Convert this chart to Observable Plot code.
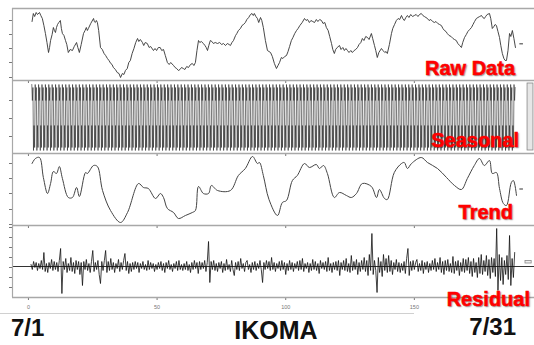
<!DOCTYPE html>
<html><head><meta charset="utf-8">
<script src="https://cdn.jsdelivr.net/npm/d3@7"></script>
<script src="https://cdn.jsdelivr.net/npm/@observablehq/plot@0.6"></script>
<style>
html,body{margin:0;padding:0;background:#fff;}
#wrap{position:relative;width:534px;height:345px;overflow:hidden;font-family:"Liberation Sans",Arial,sans-serif;background:#fff;}
.lab{position:absolute;color:#ff0000;font-weight:bold;font-size:20px;line-height:1;white-space:nowrap;-webkit-text-stroke:0.5px #f00;text-shadow:1px 1px 1.5px rgba(0,0,0,0.5);font-family:"Liberation Sans",Arial,sans-serif;}
.bt{position:absolute;color:#111;font-weight:bold;line-height:1;white-space:nowrap;font-family:"Liberation Sans",Arial,sans-serif;}
#baseline{position:absolute;left:0;top:313px;width:414px;height:0;border-top:1px solid #d0d0d0;}
</style></head><body><div id="wrap"><div id="baseline"></div></div>
<script>
// ---------- data ----------
const xDomain = [-6.2, 196.7];
const xTicks = [0, 50, 100, 150];

const rawPoints = [[1.4,59],[1.9,67],[2.4,64],[3.0,68],[3.5,66],[4.3,68],[4.8,65],[5.4,62],[6.0,55],[6.6,47],[7.2,38],[7.8,28],[8.2,33],[8.6,40],[9.2,46],[9.7,53],[10.1,50],[10.5,48],[10.9,53],[11.3,56],[11.8,58],[12.4,60],[12.8,52],[13.2,47],[13.8,45],[14.4,40],[14.9,36],[15.5,28],[16.2,31],[17.1,30],[17.8,34],[18.7,38],[19.2,33],[19.8,28],[20.5,36],[21.4,47],[22.0,50],[22.5,53],[22.9,50],[23.3,52],[24.2,57],[25.3,62],[25.6,59],[26.0,58],[26.4,60],[26.8,58],[27.3,50],[28.0,33],[28.7,31],[29.4,27],[30.0,25],[30.7,22],[31.3,20],[32.0,17],[32.5,16],[33.0,13],[33.8,11],[34.5,8],[35.2,7],[35.8,3],[36.5,7],[37.1,6],[37.7,10],[38.4,12],[39.0,18],[39.6,20],[40.3,27],[41.0,32],[41.7,38],[42.4,42],[42.9,39],[43.5,41],[44.3,38],[44.8,35],[45.4,38],[46.2,37],[46.9,33],[47.5,34],[48.6,30],[49.2,32],[49.8,30],[50.5,33],[51.2,33],[51.8,30],[52.5,31],[53.2,25],[54.0,18],[54.7,16],[55.3,18],[56.4,15],[57.0,13],[57.6,12],[58.3,10],[58.9,11],[59.5,13],[60.2,12],[60.8,11],[61.5,14],[62.2,13],[63.0,16],[63.7,17],[64.3,15],[64.9,18],[65.5,30],[66.1,40],[66.6,38],[67.2,39],[68.0,37],[68.6,35],[69.1,33],[69.6,30],[70.1,35],[70.7,40],[71.3,39],[71.9,37],[72.6,38],[73.5,37],[74.3,38],[75.1,36],[75.8,37],[76.6,35],[77.3,37],[78.0,36],[78.5,35],[79.1,38],[79.7,40],[80.5,45],[81.0,47],[81.6,50],[82.4,52],[83.0,55],[83.6,56],[84.3,58],[84.9,61],[85.6,63],[86.3,66],[86.9,67],[87.4,65],[87.8,67],[88.4,64],[89.0,62],[89.5,58],[90.2,63],[90.7,60],[91.3,53],[92.1,40],[92.9,30],[93.5,29],[94.1,28],[94.8,24],[95.6,17],[96.4,12],[97.0,15],[97.6,18],[98.3,23],[98.9,22],[99.6,24],[100.3,25],[100.9,29],[101.5,34],[102.2,40],[102.8,43],[103.5,47],[104.2,50],[104.8,52],[105.5,55],[106.4,58],[107.3,62],[107.9,60],[108.5,61],[109.2,58],[109.8,60],[110.5,59],[111.2,58],[111.9,61],[112.5,59],[113.2,61],[113.9,60],[114.5,57],[115.2,58],[115.8,53],[116.5,50],[117.1,44],[117.8,37],[118.3,31],[118.9,27],[119.4,31],[120.0,33],[120.9,35],[121.5,31],[122.2,33],[122.8,30],[123.4,32],[124.0,30],[124.6,28],[125.3,30],[125.9,28],[126.6,30],[127.2,31],[127.9,33],[128.5,36],[129.2,38],[129.8,42],[130.4,40],[131.1,44],[131.8,43],[132.4,41],[133.3,47],[133.8,42],[134.5,35],[135.0,30],[135.6,23],[136.2,28],[137.2,32],[137.8,30],[138.5,28],[139.0,29],[139.5,27],[140.3,36],[141.1,47],[141.6,52],[142.3,56],[143.0,60],[143.7,62],[144.3,61],[145.0,65],[145.5,62],[146.1,60],[146.7,63],[147.3,65],[147.9,63],[148.6,66],[149.3,64],[150.0,65],[150.7,66],[151.4,64],[152.0,66],[152.7,67],[153.3,65],[153.9,64],[154.5,63],[155.1,62],[155.7,60],[156.4,61],[157.1,59],[157.8,58],[158.4,59],[159.1,57],[159.8,56],[160.5,55],[161.1,52],[161.7,50],[162.3,49],[162.8,47],[163.5,45],[164.3,44],[165.0,42],[165.6,41],[166.3,40],[166.9,37],[167.6,35],[168.3,33],[168.8,38],[169.5,43],[170.2,46],[170.8,49],[171.5,51],[172.2,53],[172.8,56],[173.4,59],[174.1,62],[174.7,63],[175.4,64],[176.1,65],[176.6,63],[177.2,62],[177.7,64],[178.3,66],[179.2,67],[179.7,62],[180.3,52],[180.9,54],[181.4,56],[181.9,55],[182.5,49],[183.1,43],[183.6,35],[184.2,27],[184.8,22],[185.3,20],[185.8,20],[186.4,30],[187.0,47],[187.5,44],[188.1,50],[188.7,42],[189.3,33]];

const trendPoints = [[1.4,62],[2.7,67],[4.3,68],[5.8,48],[7.4,32],[8.6,42],[9.7,54],[10.9,52],[12.0,59],[13.2,47],[15.5,28],[17.1,28],[18.7,38],[19.8,29],[22.2,53],[22.9,52],[25.3,60],[26.8,59],[28.8,35],[31.9,15],[35.8,3],[38.5,13],[42.8,42],[44.7,38],[46.6,37],[49.4,27],[51.3,32],[52.5,28],[54.0,17],[56.4,13],[58.3,7],[61.0,10],[63.7,13],[64.9,15],[66.1,39],[68.0,32],[70.0,32],[71.1,40],[73.5,35],[78.5,35],[81.6,50],[84.3,57],[87.1,69],[89.0,62],[89.8,63],[91.3,50],[93.5,26],[96.8,10],[98.7,23],[100.3,25],[102.6,45],[104.5,50],[107.3,62],[109.2,58],[111.9,61],[113.1,57],[114.7,60],[116.2,52],[118.9,28],[120.9,33],[123.6,30],[125.5,28],[127.5,32],[129.8,42],[133.3,39],[135.3,28],[136.4,36],[138.4,27],[139.5,26],[142.2,53],[145.0,62],[146.1,63],[147.3,57],[148.9,62],[152.7,68],[155.1,63],[159.0,57],[162.5,48],[165.6,40],[168.3,36],[170.6,47],[173.3,60],[175.3,67],[177.2,60],[179.2,65],[180.3,52],[181.9,53],[183.1,37],[184.6,22],[185.8,20],[187.7,43],[188.5,45],[189.7,30]];

// one cycle of the seasonal component and how it repeats
const seasonalCycle = [33, 17, 30, -33, -8, -30];
const seasonalStart = 1.3;
const seasonalStep = 0.22;
const seasonalCount = 855;

// residual, two values per unit from x = 1
const residualStart = 1;
const residualStep = 0.5;
const residual = [
 2,-3,5,-1,4,-4,3,-2,6,-3, 14,-5,3,-6,4,-2,7,-4,5,-3,
 4,-5,6,18,-27,5,-3,8,-6,3, -4,9,-5,4,-7,6,-3,5,-8,4,
 -19,5,-3,7,-4,3,-6,5,16,-5, 4,-3,6,-8,-17,5,-4,6,16,-6,
 5,-4,8,-3,4,-6,3,-2,7,-5, 4,-3,6,13,-4,5,-7,3,-5,4,
 -3,5,-2,4,-6,3,-2,5,-3,2, -4,6,-3,4,-2,3,-5,2,-3,4,
 -2,5,-4,3,-6,4,-2,6,-3,2, -5,3,-2,5,-4,6,-3,2,-4,3,
 -3,5,-4,2,-6,4,-3,6,-2,4, -7,5,-3,4,-2,6,-5,4,25,-16,
 5,-3,6,-4,3,-5,4,-2,5,-6, 3,-4,7,-3,2,-5,6,-3,-9,4,
 -3,5,-4,8,-2,3,-5,4,6,-3, 2,-6,4,-3,5,-4,3,-2,6,-3,
 -16,4,-3,6,-2,5,-4,9,-3,4, -5,3,-2,5,-4,6,-3,4,-8,3,
 -4,6,-3,4,-5,3,-2,5,-4,6, -3,8,-5,3,-2,4,-6,3,-4,7,
 -3,5,-4,3,-7,6,-2,4,-3,5, -5,9,-4,3,-6,4,-3,5,-4,6,
 -9,4,-3,6,-4,8,-5,3,-6,11, -4,5,-3,7,-8,4,-5,6,-3,9,
 -5,6,-9,12,-4,33,-8,6,-4,-26, 9,-6,5,-10,12,-4,8,-6,11,-5,
 6,-8,4,-3,7,-5,4,-6,3,-4, 5,-7,8,18,-9,5,-4,6,-3,4,
 7,-5,3,-4,6,-7,4,-3,5,-6, 3,-4,6,-3,8,-5,4,-3,9,-6,
 5,-8,6,-4,7,-5,3,-6,10,-7, 5,-4,6,-9,4,-5,8,-6,7,-4,
 9,-7,5,-10,8,-6,4,-11,9,-7, 12,-8,6,-5,11,-9,7,-12,9,-6,
 8,-10,38,-24,12,-14,9,-18,6,-8, 11,-13,31,-19,8,-11,14];

// panel y extents and left ticks
const rawDomain = [0, 72],       rawTicks = [3, 18, 32, 46, 60];
const seasDomain = [-36, 37],    seasTicks = [-19, -1, 17];
const trendDomain = [0, 72],     trendTicks = [1, 16, 32, 47, 62];
const resDomain = [-31, 41],     resTicks = [-21, -11, -1, 9, 19, 29, 39];

// range bars on the right
const rangeBars = [
  {panel: "raw",   x1: 191.0, x2: 192.4, y1: 35.6, y2: 36.8, fill: "#555", stroke: "none"},
  {panel: "seas",  x1: 194.0, x2: 196.3, y1: -33, y2: 34, fill: "#e6e6e6", stroke: "#888"},
  {panel: "trend", x1: 191.0, x2: 192.4, y1: 35.4, y2: 36.6, fill: "#555", stroke: "none"},
  {panel: "res",   x1: 193.2, x2: 195.6, y1: 3, y2: 5.6, fill: "#eee", stroke: "#888"}
];

const panelLabels = ["Raw Data", "Seasonal", "Trend", "Residual"];
const bottomTexts = ["7/1", "IKOMA", "7/31"];

// ---------- build ----------
const wrap = document.getElementById("wrap");
const seasonalPoints = d3.range(seasonalCount).map(i => [seasonalStart + i * seasonalStep, seasonalCycle[i % seasonalCycle.length]]);
const residualPoints = residual.map((v, i) => [residualStart + i * residualStep, v]);

function panel({top, h, domain, ticks, marks, key, last}) {
  const mt = 3, mb = last ? 22 : 3;
  const bars = rangeBars.filter(d => d.panel === key);
  const svg = Plot.plot({
    width: 534, height: h + mt + mb,
    marginLeft: 12, marginRight: 0, marginTop: mt, marginBottom: mb,
    style: {background: "transparent", overflow: "visible", color: "#777", fontSize: "5.5px", fontFamily: "Liberation Sans, Arial, sans-serif"},
    x: {domain: xDomain, ticks: xTicks, tickSize: 3, tickPadding: 5, tickFormat: last ? (d => String(d)) : (() => ""), label: null},
    y: {domain, ticks, tickSize: 3, tickFormat: () => "", label: null},
    marks: [
      ...marks,
      Plot.rect(bars, {x1: "x1", x2: "x2", y1: "y1", y2: "y2", fill: "fill", stroke: "stroke", strokeWidth: 0.8}),
      Plot.ruleY([domain[1]], {stroke: "#a8a8a8", strokeWidth: 1.6}),
      ...(last ? [Plot.ruleY([domain[0]], {stroke: "#a8a8a8", strokeWidth: 1.6})] : []),
      Plot.ruleX([xDomain[0]], {stroke: "#a8a8a8", strokeWidth: 1.2})
    ]
  });
  svg.style.position = "absolute";
  svg.style.left = "0px";
  svg.style.top = (top - mt) + "px";
  wrap.appendChild(svg);
}

panel({top: 8, h: 72, domain: rawDomain, ticks: rawTicks, key: "raw",
  marks: [Plot.line(rawPoints, {x: d => d[0], y: d => d[1], stroke: "#333", strokeWidth: 0.9})]});
panel({top: 80, h: 73, domain: seasDomain, ticks: seasTicks, key: "seas",
  marks: [Plot.line(seasonalPoints, {x: d => d[0], y: d => d[1], stroke: "#222", strokeWidth: 0.6})]});
panel({top: 153, h: 72, domain: trendDomain, ticks: trendTicks, key: "trend",
  marks: [Plot.line(trendPoints, {x: d => d[0], y: d => d[1], stroke: "#444", strokeWidth: 1, curve: "catmull-rom"})]});
panel({top: 225, h: 72, domain: resDomain, ticks: resTicks, key: "res", last: true,
  marks: [Plot.ruleY([0], {stroke: "#333", strokeWidth: 1}),
          Plot.line(residualPoints, {x: d => d[0], y: d => d[1], stroke: "#111", strokeWidth: 0.8})]});

// labels
const labPos = [{top: 58, right: 19}, {top: 130, right: 15}, {top: 202, right: 21}, {top: 289, right: 4}];
panelLabels.forEach((t, i) => {
  const d = document.createElement("div");
  d.className = "lab"; d.textContent = t;
  d.style.top = labPos[i].top + "px"; d.style.right = labPos[i].right + "px";
  wrap.appendChild(d);
});
const btPos = [
  {left: "11px", top: "316px", size: 24},
  {left: "276px", top: "317.5px", size: 25, center: true},
  {right: "18px", top: "315px", size: 24}
];
bottomTexts.forEach((t, i) => {
  const d = document.createElement("div");
  d.className = "bt"; d.textContent = t;
  const p = btPos[i];
  d.style.top = p.top; d.style.fontSize = p.size + "px";
  if (p.left) d.style.left = p.left;
  if (p.right) d.style.right = p.right;
  if (p.center) d.style.transform = "translateX(-50%)";
  wrap.appendChild(d);
});
</script></body></html>
